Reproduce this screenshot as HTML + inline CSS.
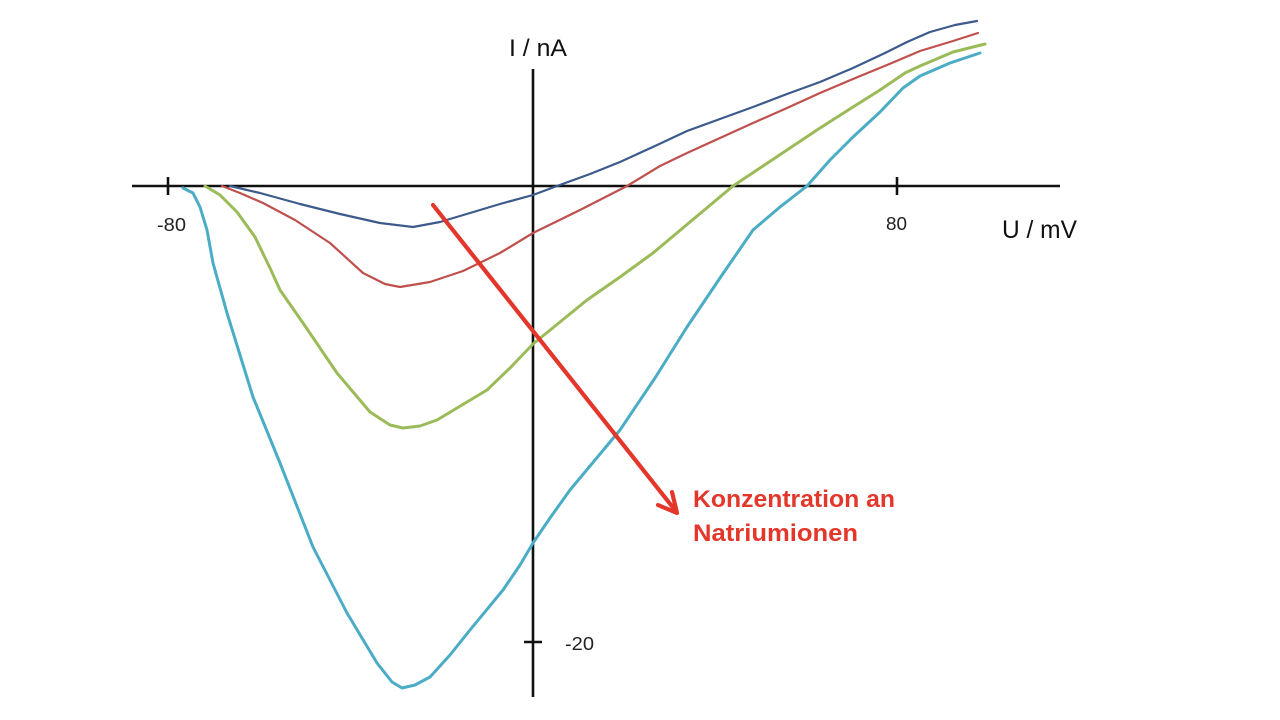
<!DOCTYPE html>
<html>
<head>
<meta charset="utf-8">
<style>
html,body{margin:0;padding:0;background:#fff;}
svg{display:block;}
text{font-family:"Liberation Sans",sans-serif;}
</style>
</head>
<body>
<svg width="1280" height="720" viewBox="0 0 1280 720" xmlns="http://www.w3.org/2000/svg">
<rect width="1280" height="720" fill="#fff"/>
<!-- axes -->
<line x1="132" y1="186" x2="1060" y2="186" stroke="#111" stroke-width="2.6"/>
<line x1="533" y1="69" x2="533" y2="697" stroke="#111" stroke-width="2.6"/>
<line x1="168" y1="177" x2="168" y2="195" stroke="#111" stroke-width="2.6"/>
<line x1="897" y1="177" x2="897" y2="195" stroke="#111" stroke-width="2.6"/>
<line x1="524" y1="642" x2="542" y2="642" stroke="#111" stroke-width="2.6"/>

<!-- curves -->
<polyline fill="none" stroke="#3c5a8b" stroke-width="2.2" stroke-linejoin="round" stroke-linecap="round"
points="230,186 260,193 300,204 340,214 380,223 413,227 440,222 470,213 500,204 533,195 557,186 590,174 620,162 655,146 687,131 720,119 753,107 787,94 820,82 853,68 885,53 907,42 930,32 955,25 977,21"/>
<polyline fill="none" stroke="#c0504d" stroke-width="2.2" stroke-linejoin="round" stroke-linecap="round"
points="222,186 240,193 263,203 295,220 330,243 363,273 385,284 400,287 430,282 463,271 500,253 533,233 580,210 627,186 660,166 687,153 720,138 753,123 787,108 820,93 853,79 887,65 920,51 953,41 978,33"/>
<polyline fill="none" stroke="#9bbb59" stroke-width="3" stroke-linejoin="round" stroke-linecap="round"
points="205,186 220,195 237,212 255,237 270,268 280,290 303,323 337,373 370,412 390,425 403,428 420,426 437,420 462,405 487,390 510,368 533,344 560,322 587,300 620,277 653,253 690,222 733,186 760,168 787,150 820,128 853,107 880,90 905,73 920,66 953,52 985,44"/>
<polyline fill="none" stroke="#4bacc6" stroke-width="3" stroke-linejoin="round" stroke-linecap="round"
points="183,188 193,193 200,207 207,230 213,263 227,313 253,397 280,463 313,547 347,613 377,663 392,682 402,688 415,685 430,677 450,655 470,630 503,590 520,565 533,543 550,518 570,490 595,460 620,430 655,378 687,327 720,278 753,230 780,207 807,186 830,160 853,137 880,112 903,88 920,76 950,63 980,53"/>

<!-- red arrow -->
<line x1="433" y1="205" x2="675" y2="510" stroke="#e3372b" stroke-width="4.2" stroke-linecap="round"/>
<polyline points="672,492 677,513 658,505" fill="none" stroke="#e3372b" stroke-width="4.2" stroke-linecap="round" stroke-linejoin="round"/>

<!-- labels -->
<text x="509" y="56" font-size="24" fill="#111" textLength="58" lengthAdjust="spacingAndGlyphs">I / nA</text>
<text x="1002" y="238" font-size="25" fill="#111" textLength="75" lengthAdjust="spacingAndGlyphs">U / mV</text>
<text x="157" y="231" font-size="18" fill="#222" textLength="29" lengthAdjust="spacingAndGlyphs">-80</text>
<text x="886" y="230" font-size="18" fill="#222" textLength="21" lengthAdjust="spacingAndGlyphs">80</text>
<text x="565" y="650" font-size="18" fill="#222" textLength="29" lengthAdjust="spacingAndGlyphs">-20</text>

<text x="693" y="507" font-size="24" font-weight="bold" fill="#e3372b" textLength="202" lengthAdjust="spacingAndGlyphs">Konzentration an</text>
<text x="693" y="541" font-size="24" font-weight="bold" fill="#e3372b" textLength="165" lengthAdjust="spacingAndGlyphs">Natriumionen</text>
</svg>
</body>
</html>
